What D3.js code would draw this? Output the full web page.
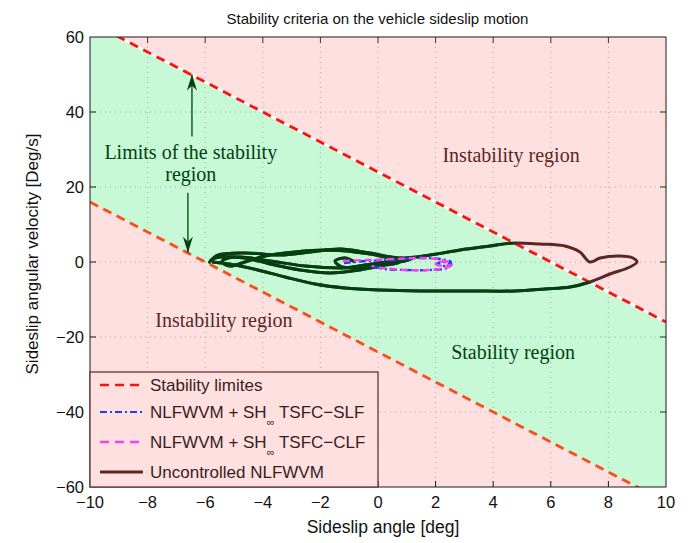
<!DOCTYPE html>
<html>
<head>
<meta charset="utf-8">
<script src="https://cdn.jsdelivr.net/npm/d3@7"></script>
<style>
  html, body { margin: 0; padding: 0; background: #ffffff; }
  svg { display: block; }
</style>
</head>
<body>
<svg id="chart" width="691" height="543"></svg>
<script>
// ---- data -------------------------------------------------------------
const xTicks = [-10, -8, -6, -4, -2, 0, 2, 4, 6, 8, 10];
const yTicks = [-60, -40, -20, 0, 20, 40, 60];

// stability limits: |4*beta + r| <= 24
const upperLimit = [[-10, 64], [10, -16]];
const lowerLimit = [[-10, 16], [10, -64]];

// sideslip angle [deg], sideslip angular velocity [deg/s]
const uncontrolled = [
  [-0.80, 0.00], [-1.15, 1.07], [-1.49, 0.27], [-1.25, -1.33], [-0.45, -0.80],
  [0.59, 0.27], [1.18, 0.80], [0.42, -0.53], [-0.63, -2.13], [-1.67, -2.93],
  [-2.71, -2.13], [-3.75, -0.53], [-4.62, 1.07], [-5.21, 1.07], [-5.42, 0.00],
  [-5.14, -1.07], [-4.62, 0.00], [-3.92, 1.60], [-2.88, 2.67], [-1.84, 3.20],
  [-0.80, 2.67], [0.24, 1.33], [0.76, 0.00], [-0.10, -1.07], [-1.32, -1.60],
  [-2.53, -1.07], [-3.75, 0.27], [-4.79, 1.33], [-5.66, 1.07], [-5.85, 0.00],
  [-5.56, 1.80], [-4.62, 2.40], [-3.40, 1.87], [-2.36, 2.67], [-1.32, 3.47],
  [-0.28, 2.40], [0.76, 1.07], [1.81, 1.87], [2.85, 3.20], [3.89, 4.27],
  [4.69, 5.07], [5.63, 4.80], [6.49, 4.27], [7.01, 2.67], [7.36, 0.00],
  [7.71, 1.07], [8.40, 1.60], [8.85, 1.07], [8.99, 0.00], [8.75, -1.33],
  [8.06, -3.20], [7.36, -5.33], [6.67, -6.67], [5.80, -7.20], [4.76, -7.73],
  [3.19, -7.73], [1.46, -7.73], [0.07, -7.47], [-1.15, -6.93], [-2.19, -5.87],
  [-3.23, -4.00], [-4.17, -2.13], [-4.97, -0.80], [-5.76, 0.00]
];
const tsfcSLF = [
  [-1.18, -0.27], [-0.45, 0.27], [0.49, 0.53], [1.39, 1.07], [2.15, 0.80],
  [2.53, 0.00], [2.35, -1.00], [2.05, -0.60], [2.20, 0.00], [2.55, -0.60],
  [2.40, -1.60], [1.81, -2.13], [0.94, -2.13], [0.24, -1.87], [-0.28, -1.07]
];
const tsfcCLF = [
  [-1.22, 0.27], [-0.35, 0.53], [0.59, 0.80], [1.46, 1.07], [2.22, 0.53],
  [2.57, -0.53], [2.30, -1.10], [2.00, -0.50], [2.25, 0.10], [2.50, -0.80],
  [2.36, -1.60], [1.74, -2.13], [0.94, -2.13], [0.17, -1.60], [-0.21, -1.07]
];

const legendLabels = ["Stability limites", "NLFWVM + SH", "NLFWVM + SH", "Uncontrolled NLFWVM"];
const legendSuffix = ["", " TSFC\u2212SLF", " TSFC\u2212CLF", ""];

// ---- layout -----------------------------------------------------------
const svg = d3.select("#chart");
const M = { left: 90, right: 666, top: 37, bottom: 487 };
const x = d3.scaleLinear().domain([-10, 10]).range([M.left, M.right]);
const y = d3.scaleLinear().domain([-60, 60]).range([M.bottom, M.top]);

const C = {
  pink: "#ffe0e0", green: "#c8f9d6", frame: "#1a1a1a",
  darkGreen: "#00420f", brown: "#5a2626", red: "#ff1010", orange: "#ff4a1a",
  blue: "#1f3cff", magenta: "#ff40e8", grid: "#9a9a9a", text: "#111"
};

const defs = svg.append("defs");
defs.append("clipPath").attr("id", "plotClip")
  .append("rect").attr("x", M.left).attr("y", M.top)
  .attr("width", M.right - M.left).attr("height", M.bottom - M.top);

const line = d3.line().x(d => x(d[0])).y(d => y(d[1]));
const smooth = d3.line().x(d => x(d[0])).y(d => y(d[1])).curve(d3.curveCatmullRom.alpha(0.5));

// stable band polygon between the two limits
const band = [upperLimit[0], upperLimit[1], lowerLimit[1], lowerLimit[0]];
defs.append("clipPath").attr("id", "bandClip")
  .append("path").attr("d", line(band) + "Z");

const plot = svg.append("g").attr("clip-path", "url(#plotClip)");
plot.append("rect").attr("x", M.left).attr("y", M.top)
  .attr("width", M.right - M.left).attr("height", M.bottom - M.top)
  .attr("fill", C.pink);
plot.append("path").attr("d", line(band) + "Z").attr("fill", C.green);

// grid
const grid = plot.append("g").attr("stroke", C.grid).attr("stroke-width", 1)
  .attr("stroke-dasharray", "1,4").attr("opacity", 0.8);
xTicks.slice(1, -1).forEach(t => grid.append("line")
  .attr("x1", x(t)).attr("x2", x(t)).attr("y1", M.top).attr("y2", M.bottom));
yTicks.slice(1, -1).forEach(t => grid.append("line")
  .attr("y1", y(t)).attr("y2", y(t)).attr("x1", M.left).attr("x2", M.right));

// limit lines
plot.append("path").attr("d", line(upperLimit)).attr("stroke", "#fff")
  .attr("stroke-width", 2.5).attr("fill", "none");
plot.append("path").attr("d", line(upperLimit)).attr("stroke", C.red)
  .attr("stroke-width", 2.8).attr("stroke-dasharray", "9,6").attr("fill", "none");
plot.append("path").attr("d", line(lowerLimit)).attr("stroke", C.orange)
  .attr("stroke-width", 2.8).attr("stroke-dasharray", "9,6").attr("fill", "none");

// trajectories
plot.append("path").attr("d", smooth(uncontrolled)).attr("stroke", C.brown)
  .attr("stroke-width", 3).attr("fill", "none").attr("stroke-linejoin", "round");
plot.append("g").attr("clip-path", "url(#bandClip)")
  .append("path").attr("d", smooth(uncontrolled)).attr("stroke", C.darkGreen)
  .attr("stroke-width", 3).attr("fill", "none").attr("stroke-linejoin", "round");
plot.append("path").attr("d", smooth(tsfcSLF)).attr("stroke", C.blue)
  .attr("stroke-width", 2.4).attr("stroke-dasharray", "7,3,2,3").attr("fill", "none");
plot.append("path").attr("d", smooth(tsfcCLF)).attr("stroke", C.magenta)
  .attr("stroke-width", 2.4).attr("stroke-dasharray", "7,4").attr("fill", "none");

// annotation arrows (head drawn along +x, oriented by the marker)
defs.append("marker").attr("id", "head").attr("viewBox", "0 -5 16 10")
  .attr("refX", 16).attr("refY", 0).attr("markerWidth", 16).attr("markerHeight", 10)
  .attr("markerUnits", "userSpaceOnUse").attr("orient", "auto")
  .append("path").attr("d", "M0,-5 L16,0 L0,5 L5,0 Z").attr("fill", C.darkGreen);
const arrows = [
  [[-6.46, 33.5], [-6.46, 50.0]],
  [[-6.60, 18.5], [-6.60, 2.5]]
];
arrows.forEach(a => {
  svg.append("line").attr("x1", x(a[0][0])).attr("y1", y(a[0][1]))
    .attr("x2", x(a[1][0])).attr("y2", y(a[1][1]))
    .attr("stroke", C.darkGreen).attr("stroke-width", 1.3)
    .attr("marker-end", "url(#head)");
});

// region labels
const serif = "'Liberation Serif', 'Times New Roman', serif";
const notes = [
  { t: "Limits of the stability", p: [-6.5, 27.5], c: C.darkGreen },
  { t: "region", p: [-6.5, 21.6], c: C.darkGreen },
  { t: "Instability region", p: [4.62, 26.7], c: C.brown },
  { t: "Instability region", p: [-5.35, -17.3], c: C.brown },
  { t: "Stability region", p: [4.69, -25.9], c: C.darkGreen }
];
notes.forEach(n => svg.append("text").attr("x", x(n.p[0])).attr("y", y(n.p[1]))
  .attr("text-anchor", "middle").attr("font-family", serif).attr("font-size", 20)
  .attr("fill", n.c).text(n.t));

// frame + ticks (inside)
const sans = "'Liberation Sans', Arial, sans-serif";
svg.append("rect").attr("x", M.left).attr("y", M.top)
  .attr("width", M.right - M.left).attr("height", M.bottom - M.top)
  .attr("fill", "none").attr("stroke", C.frame).attr("stroke-width", 1);
const tk = svg.append("g").attr("stroke", C.frame).attr("stroke-width", 1);
xTicks.slice(1, -1).forEach(t => {
  tk.append("line").attr("x1", x(t)).attr("x2", x(t)).attr("y1", M.bottom).attr("y2", M.bottom - 6);
  tk.append("line").attr("x1", x(t)).attr("x2", x(t)).attr("y1", M.top).attr("y2", M.top + 6).attr("stroke", C.brown);
});
yTicks.slice(1, -1).forEach(t => {
  tk.append("line").attr("y1", y(t)).attr("y2", y(t)).attr("x1", M.left).attr("x2", M.left + 6);
  tk.append("line").attr("y1", y(t)).attr("y2", y(t)).attr("x1", M.right).attr("x2", M.right - 6).attr("stroke", C.darkGreen);
});

svg.append("g").selectAll("text").data(xTicks).join("text")
  .attr("x", d => x(d)).attr("y", M.bottom + 21).attr("text-anchor", "middle")
  .attr("font-family", sans).attr("font-size", 16.5).attr("fill", C.text)
  .text(d => d < 0 ? "\u2212" + Math.abs(d) : d);
svg.append("g").selectAll("text").data(yTicks).join("text")
  .attr("x", M.left - 6).attr("y", d => y(d) + 6).attr("text-anchor", "end")
  .attr("font-family", sans).attr("font-size", 16.5).attr("fill", C.text)
  .text(d => d < 0 ? "\u2212" + Math.abs(d) : d);

// titles
svg.append("text").attr("x", (M.left + M.right) / 2 - 0.5).attr("y", 24).attr("text-anchor", "middle")
  .attr("font-family", sans).attr("font-size", 15).attr("fill", C.text)
  .text("Stability criteria on the vehicle sideslip motion");
svg.append("text").attr("x", (M.left + M.right) / 2 + 5).attr("y", 533).attr("text-anchor", "middle")
  .attr("font-family", sans).attr("font-size", 17.5).attr("fill", C.text)
  .text("Sideslip angle [deg]");
svg.append("text").attr("transform", `translate(38,${(M.top + M.bottom) / 2 - 8}) rotate(-90)`)
  .attr("text-anchor", "middle").attr("font-family", sans).attr("font-size", 17).attr("fill", C.text)
  .text("Sideslip angular velocity [Deg/s]");

// legend
const lg = svg.append("g");
lg.append("rect").attr("x", M.left).attr("y", 372).attr("width", 288).attr("height", M.bottom - 372)
  .attr("fill", C.pink).attr("stroke", C.brown).attr("stroke-width", 1.2);
const rowsY = [385, 412, 442, 472];
const styles = [
  { c: C.red, d: "9,6", w: 2.6 },
  { c: C.blue, d: "7,3,2,3", w: 2.2 },
  { c: C.magenta, d: "9,6", w: 2.6 },
  { c: C.brown, d: null, w: 2.8 }
];
legendLabels.forEach((lab, i) => {
  const s = styles[i];
  lg.append("line").attr("x1", 100).attr("x2", 143).attr("y1", rowsY[i]).attr("y2", rowsY[i])
    .attr("stroke", s.c).attr("stroke-width", s.w).attr("stroke-dasharray", s.d);
  const t = lg.append("text").attr("x", 150).attr("y", rowsY[i] + 6)
    .attr("font-family", sans).attr("font-size", 17).attr("fill", "#3a1c1c");
  t.append("tspan").text(lab);
  if (legendSuffix[i]) {
    t.append("tspan").attr("font-size", 11).attr("dy", 8).text("\u221e");
    t.append("tspan").attr("dy", -8).text(legendSuffix[i]);
  }
});
</script>
</body>
</html>
